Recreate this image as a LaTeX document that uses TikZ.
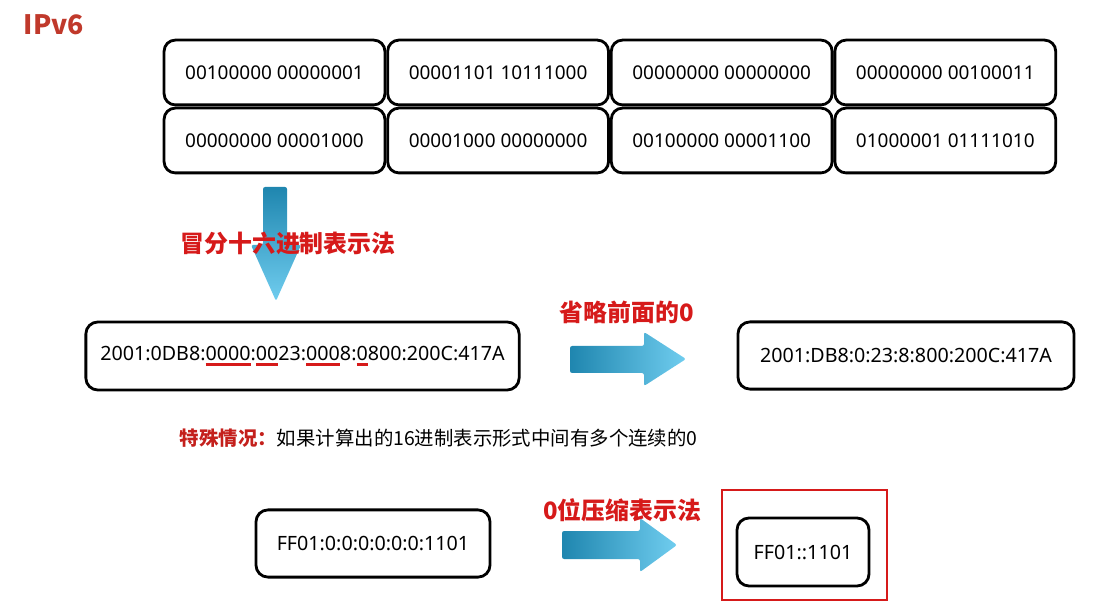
\documentclass[tikz,border=0pt]{standalone}
\usepackage{fontspec}
\setmainfont{Noto Sans}
\newfontfamily\cjk{Noto Sans CJK SC}
\usepackage{xcolor}
\definecolor{titred}{HTML}{C0392B}
\definecolor{labred}{HTML}{D61A1A}
\definecolor{notered}{HTML}{C4201C}
\definecolor{ardark}{HTML}{1F86AF}
\definecolor{arlight}{HTML}{70CDEF}

% red mark under the zeros
\newlength\zulw
\newcommand\zul[1]{\settowidth\zulw{#1}\rlap{\color{labred}\rule[-3.8pt]{\zulw}{1.8pt}}#1}

\tikzset{
  cell/.style={draw, line width=2pt, rounded corners=0.28cm,
    minimum width=5.52cm, minimum height=1.62cm,
    font=\fontsize{13.5}{16}\selectfont},
  addr/.style={draw, line width=2pt, rounded corners=0.3cm,
    font=\fontsize{14}{16}\selectfont},
  tag/.style={text=labred, font=\cjk\bfseries\fontsize{17}{20}\selectfont},
  bigarrow/.style={left color=ardark, right color=arlight, rounded corners=1.5pt},
}

\begin{document}
\begin{tikzpicture}[x=0.025cm,y=-0.025cm]
\useasboundingbox (0,0) rectangle (1119,603);

%========================
% Titolo
%========================
\node[anchor=west, text=titred, font=\cjk\bfseries\fontsize{19}{22}\selectfont] (title) at (19,25) {IPv6};

%========================
% 128 bit
%========================
\foreach \bits [count=\i from 0] in {00100000 00000001,00001101 10111000,00000000 00000000,00000000 00100011,
  00000000 00001000,00001000 00000000,00100000 00001100,01000001 01111010}
{
    \pgfmathtruncatemacro\col{mod(\i,4)}
    \pgfmathtruncatemacro\row{int(\i/4)}
    \node[cell] (c\i) at (274.5+223.6*\col,72.5+68*\row) {\bits};
}

% freccia giu
\shade[top color=ardark, bottom color=arlight, rounded corners=1.5pt]
(263,187) -- (287,187) -- (287,245) -- (301,245) -- (276,301)
-- (251,245) -- (263,245) -- cycle;
\node[tag] (hexlab) at (288,243) {冒分十六进制表示法};

%========================
% Riga centrale
%========================
\node[addr, minimum width=10.83cm, minimum height=1.7cm] (full) at (302.5,356)
{2001:0DB8:\zul{0000}:\zul{00}23:\zul{000}8:\zul{0}800:200C:417A};

% freccia
\shade[bigarrow]
(570,346) -- (644,346) -- (644,332) -- (686,359) -- (644,386)
-- (644,373) -- (570,373) -- cycle;
\node[tag] (omitlab) at (627,312) {省略前面的0};

\node[addr, minimum width=8.4cm, minimum height=1.68cm] (short) at (906,355.5)
{2001:DB8:0:23:8:800:200C:417A};

% nota
\node[anchor=west, font=\cjk\fontsize{13.8}{16}\selectfont] (note) at (175,438)
{\textcolor{notered}{\bfseries 特殊情况：}如果计算出的16进制表示形式中间有多个连续的0};

%========================
% Riga inferiore
%========================
\node[addr, minimum width=5.85cm, minimum height=1.68cm] (zeros) at (373,543.5)
{FF01:0:0:0:0:0:0:1101};

% freccia
\shade[bigarrow]
(562,531) -- (640,531) -- (640,518) -- (677,545) -- (640,572)
-- (640,559) -- (562,559) -- cycle;
\node[tag] (ziplab) at (622,510) {0位压缩表示法};

% riquadro rosso
\node[draw=labred, line width=1.5pt, minimum width=4.12cm, minimum height=2.75cm] (hl) at (804.5,545) {};
\node[addr, minimum width=3.3cm, minimum height=1.7cm] (comp) at (803,552) {FF01::1101};
\end{tikzpicture}
\end{document}
